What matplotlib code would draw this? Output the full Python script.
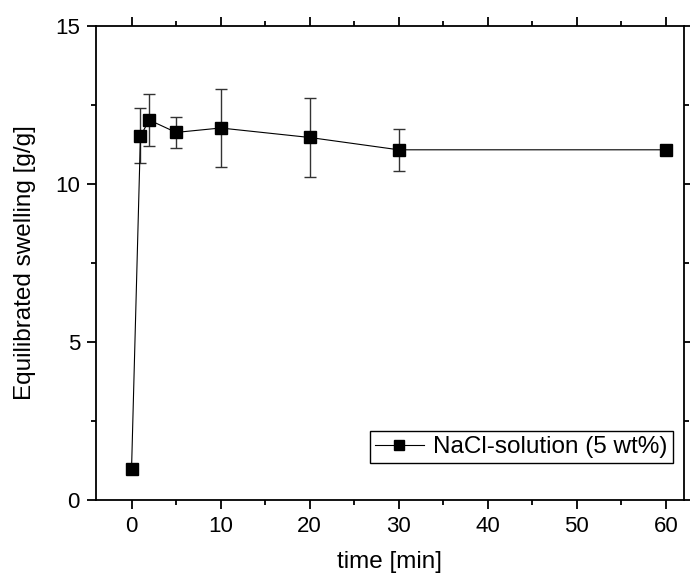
import numpy as np
import matplotlib
matplotlib.use('Agg')
import matplotlib.pyplot as plt
from matplotlib.ticker import MultipleLocator
from matplotlib.lines import Line2D

matplotlib.rcParams['font.family'] = 'Liberation Sans'
matplotlib.rcParams['font.size'] = 16

# data
time_min = [0, 1, 2, 5, 10, 20, 30, 60]
swelling = [0.97, 11.52, 12.02, 11.63, 11.77, 11.47, 11.08, 11.08]
swelling_err = [0.0, 0.87, 0.82, 0.48, 1.22, 1.25, 0.67, 0.0]

fig = plt.figure(figsize=(6.9, 5.76), dpi=100)
ax = fig.add_axes([0.139, 0.132, 0.852, 0.823])

ax.errorbar(time_min, swelling, yerr=swelling_err, color='black', lw=0.8,
            marker='s', ms=8, mfc='black', mec='black',
            ecolor='#333333', elinewidth=1.0, capsize=4, capthick=1.0)

ax.set_xlim(-4, 62)
ax.set_ylim(0, 15)
ax.xaxis.set_major_locator(MultipleLocator(10))
ax.xaxis.set_minor_locator(MultipleLocator(5))
ax.yaxis.set_major_locator(MultipleLocator(5))
ax.yaxis.set_minor_locator(MultipleLocator(2.5))

ax.tick_params(which='both', direction='out', top=True, right=True,
               labeltop=False, labelright=False, width=1.3, pad=5)
ax.tick_params(which='major', length=6.5)
ax.tick_params(which='minor', length=3.5)
for sp in ax.spines.values():
    sp.set_linewidth(1.3)

ax.set_xlabel('time [min]', fontsize=17.5, labelpad=10)
ax.set_ylabel('Equilibrated swelling [g/g]', fontsize=17.5, labelpad=14)

handle = Line2D([], [], color='black', lw=0.8, marker='s', ms=6.5)
ax.legend([handle], ['NaCl-solution (5 wt%)'], loc='lower right',
          bbox_to_anchor=(0.981, 0.078), borderaxespad=0, fontsize=17.5,
          frameon=True, fancybox=False, edgecolor='black', framealpha=1,
          handlelength=2.0, borderpad=0.2, handletextpad=0.4)

plt.savefig('out.png', dpi=100)
